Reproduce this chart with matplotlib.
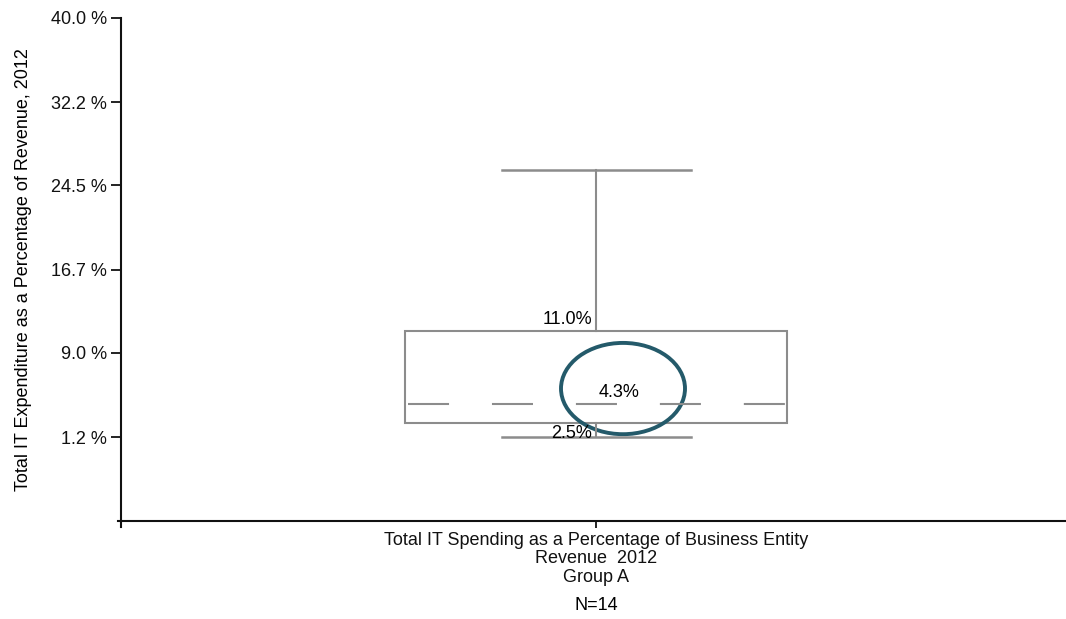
import matplotlib
matplotlib.use("Agg")
import matplotlib.pyplot as plt
from matplotlib.patches import Rectangle, Ellipse
import numpy as np

plt.rcParams['font.family'] = ['Liberation Sans', 'DejaVu Sans']

# Data (percent)
category = "Total IT Spending as a Percentage of Business Entity\nRevenue  2012\nGroup A"
n_label = "N=14"
whisker_low = 1.2
q1 = 2.5
median = 4.3
q3 = 11.0
whisker_high = 25.9
ytick_vals = [1.2, 9.0, 16.7, 24.5, 32.2, 40.0]
ytick_labels = ["1.2 %", "9.0 %", "16.7 %", "24.5 %", "32.2 %", "40.0 %"]
y_label = "Total IT Expenditure as a Percentage of Revenue, 2012"

W, H = 1066, 619
fig = plt.figure(figsize=(W / 100, H / 100), dpi=100)
ax_left, ax_right, ax_top, ax_bottom = 121, 1066, 18, 521
ax = fig.add_axes([ax_left / W, 1 - ax_bottom / H, (ax_right - ax_left) / W, (ax_bottom - ax_top) / H])

ymin = ytick_vals[0] - (ytick_vals[-1] - ytick_vals[0]) / 5
ax.set_ylim(ymin, ytick_vals[-1])
ax.set_xlim(-475, 470)

gray = "#8c8c8c"
pos = 0
box_w = 382
cap_w = 189
FS = 13

ax.add_patch(Rectangle((pos - box_w / 2, q1), box_w, q3 - q1, fill=False, edgecolor=gray, lw=1.5))
ax.plot([pos, pos], [q3, whisker_high], color=gray, lw=1.5)
ax.plot([pos, pos], [whisker_low, q1], color=gray, lw=1.5)
ax.plot([pos - cap_w / 2, pos + cap_w / 2], [whisker_high, whisker_high], color=gray, lw=1.8)
ax.plot([pos - cap_w / 2, pos + cap_w / 2], [whisker_low, whisker_low], color=gray, lw=1.8)
ax.plot([pos - box_w / 2 + 3, pos + box_w / 2 - 2], [median, median], color=gray, lw=1.5,
        dashes=(19.7, 20.6))

ax.text(pos - 4, q3 + 0.35, f"{q3:.1f}%", ha="right", va="bottom", fontsize=FS)
ax.text(pos - 4, whisker_low + 0.3, f"{q1:.1f}%", ha="right", va="center", fontsize=FS)
ax.text(pos + 23, median + 1.05, f"{median:.1f}%", ha="center", va="center", fontsize=FS)

ax.add_patch(Ellipse((pos + 27, median + 1.4), 124, 8.45, fill=False, edgecolor="#245a6a", lw=2.8))

for s in ["top", "right"]:
    ax.spines[s].set_visible(False)
for s in ["left", "bottom"]:
    ax.spines[s].set_linewidth(1.5)
    ax.spines[s].set_color("#111111")

ax.set_yticks(ytick_vals)
ax.set_yticklabels(ytick_labels, fontsize=FS)
ax.tick_params(axis="y", direction="out", length=7, width=1.3, pad=3, colors="#111111")
ax.set_xticks([pos])
ax.set_xticklabels([category], fontsize=FS, linespacing=1.1)
ax.tick_params(axis="x", direction="out", length=5, width=1.3, pad=3, colors="#111111")
ax.set_ylabel(y_label, fontsize=FS, labelpad=14)

fig.text((ax_left + (pos + 475)) / W, 1 - 606 / H, n_label, ha="center", va="center", fontsize=FS)

# small cross at origin
ax.plot([-478, -475], [ymin, ymin], color="#111111", lw=1.5, clip_on=False)
ax.plot([-475, -475], [ymin, ymin - 0.55], color="#111111", lw=1.5, clip_on=False)

fig.savefig("out.png", dpi=100, facecolor="white")
